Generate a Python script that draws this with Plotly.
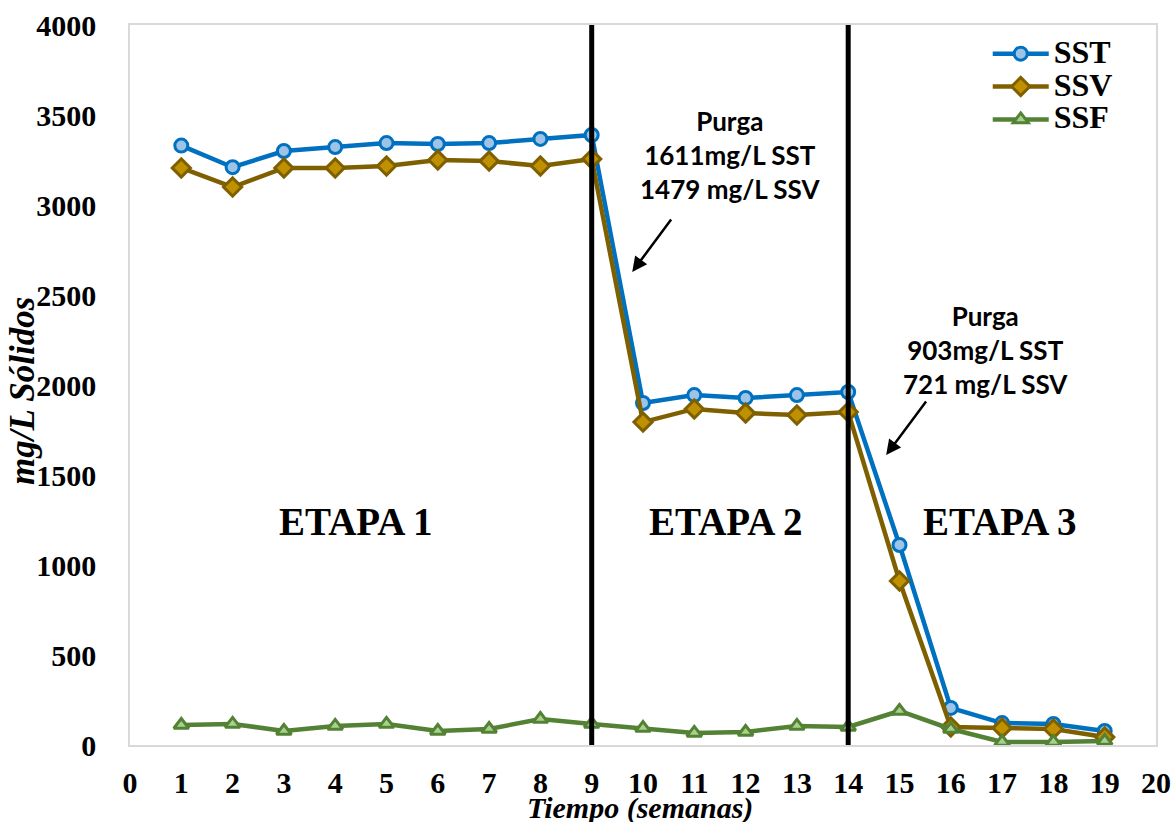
import plotly.graph_objects as go

weeks = list(range(1, 20))
sst = [3330, 3210, 3300, 3322, 3344, 3339, 3344, 3367, 3389, 1900, 1944, 1928, 1944, 1961, 1111, 206, 122, 117, 78]
ssv = [3206, 3100, 3206, 3206, 3217, 3250, 3244, 3217, 3256, 1794, 1867, 1844, 1833, 1850, 911, 100, 94, 89, 44]
ssf = [111, 117, 78, 106, 117, 78, 89, 144, 117, 94, 67, 72, 106, 100, 189, 89, 17, 17, 22]

stage_bounds = [9, 14]
stage_labels = ["ETAPA 1", "ETAPA 2", "ETAPA 3"]
stage_label_x = [4.4, 11.62, 16.96]
stage_label_y = 1240

purga_texts = ["Purga<br>1611mg/L SST<br>1479 mg/L SSV", "Purga<br>903mg/L SST<br>721 mg/L SSV"]
purga_text_pos = [(11.7, 3278), (16.67, 2194)]
purga_arrow_head = [(9.79, 2628), (14.74, 1611)]
purga_arrow_tail = [(10.57, 2928), (15.54, 1917)]

x_title = "Tiempo (semanas)"
y_title = "mg/L Sólidos"

SERIF = "Liberation Serif, Times New Roman, serif"
SANS = "Lato, Carlito, sans-serif"

fig = go.Figure()
series = [
    ("SST", sst, "#0070C0", "#9DC3E6", "circle", 13),
    ("SSV", ssv, "#7F6000", "#BF9000", "diamond", 14),
    ("SSF", ssf, "#548235", "#A9D18E", "triangle-up", 13),
]
for name, vals, lc, fc, sym, sz in series:
    fig.add_trace(go.Scatter(
        x=weeks, y=vals, mode="lines+markers",
        name="<span style='font-size:32px'><b>" + name + "</b></span>",
        line=dict(color=lc, width=4.5),
        marker=dict(symbol=sym, size=sz, color=fc, line=dict(color=lc, width=3)),
    ))

for b in stage_bounds:
    fig.add_shape(type="line", x0=b, x1=b, xref="x", y0=0, y1=1, yref="paper",
                  line=dict(color="black", width=5))

for lab, lx in zip(stage_labels, stage_label_x):
    fig.add_annotation(x=lx, y=stage_label_y, text="<b>" + lab + "</b>", showarrow=False,
                       font=dict(family=SERIF, size=39, color="black"))

for txt, (tx, ty) in zip(purga_texts, purga_text_pos):
    fig.add_annotation(x=tx, y=ty, text="<b>" + txt + "</b>", showarrow=False,
                       font=dict(family=SANS, size=26, color="black"))

for (hx, hy), (tx, ty) in zip(purga_arrow_head, purga_arrow_tail):
    fig.add_annotation(x=hx, y=hy, ax=tx, ay=ty, axref="x", ayref="y", text="",
                       showarrow=True, arrowhead=2, arrowsize=1.2, arrowwidth=2.5,
                       arrowcolor="black")

# axis titles as paper annotations for exact placement
fig.add_annotation(xref="paper", yref="paper", x=0.497, y=-0.087, yanchor="middle",
                   text="<b><i>" + x_title + "</i></b>", showarrow=False,
                   font=dict(family=SERIF, size=30, color="black"))
fig.add_annotation(xref="paper", yref="paper", x=-0.105, y=0.492, xanchor="center",
                   yanchor="middle", textangle=-90,
                   text="<b><i>" + y_title + "</i></b>", showarrow=False,
                   font=dict(family=SERIF, size=35, color="black"))

fig.update_layout(
    width=1173, height=822,
    margin=dict(l=130, r=17, t=25, b=77),
    plot_bgcolor="white", paper_bgcolor="white",
    font=dict(family=SERIF, color="black"),
    showlegend=True,
    legend=dict(x=0.836, y=0.99, xanchor="left", yanchor="top",
                borderwidth=0, bgcolor="rgba(0,0,0,0)",
                font=dict(family=SERIF, size=23, color="black"),
                tracegroupgap=0, itemwidth=56),
    xaxis=dict(range=[0, 20], dtick=1, tick0=0, showgrid=False, zeroline=False,
               automargin=False,
               showline=True, linecolor="#D9D9D9", linewidth=1.5, mirror=True,
               ticks="", tickprefix="<b>", ticksuffix="</b>", ticklabelstandoff=10,
               tickfont=dict(family=SERIF, size=30, color="black")),
    yaxis=dict(range=[0, 4000], dtick=500, showgrid=False, zeroline=False,
               automargin=False,
               showline=True, linecolor="#D9D9D9", linewidth=1.5, mirror=True,
               ticks="", ticklabelstandoff=26, tickprefix="<b>", ticksuffix="</b>",
               tickfont=dict(family=SERIF, size=30, color="black")),
)

fig.write_html("out.html")
